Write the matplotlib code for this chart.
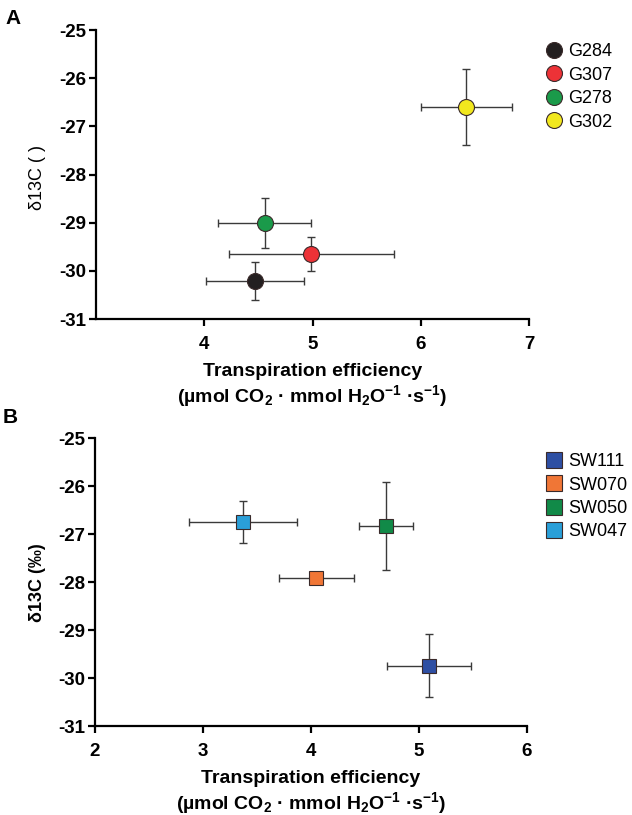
import matplotlib
matplotlib.use("Agg")
import matplotlib.pyplot as plt
from matplotlib.lines import Line2D

plt.rcParams["font.family"] = ["Liberation Sans", "DejaVu Sans"]
plt.rcParams["axes.unicode_minus"] = False
plt.rcParams["mathtext.fontset"] = "custom"
plt.rcParams["mathtext.rm"] = "Liberation Sans"
plt.rcParams["mathtext.bf"] = "Liberation Sans:bold"
plt.rcParams["mathtext.it"] = "Liberation Sans:italic"

# --- panel A: genotypes (circles) ---
a_names = ["G284", "G307", "G278", "G302"]
a_colors = ["#231f20", "#ed3237", "#1a9a4a", "#f2e81e"]
a_te = [4.47, 4.99, 4.56, 6.42]
a_te_err = [0.45, 0.76, 0.43, 0.42]
a_d13c = [-30.21, -29.65, -29.01, -26.60]
a_d13c_err = [0.39, 0.36, 0.52, 0.78]

# --- panel B: lines (squares) ---
b_names = ["SW111", "SW070", "SW050", "SW047"]
b_colors = ["#2e4fa3", "#f07636", "#118a48", "#2a9fd8"]
b_te = [5.09, 4.05, 4.69, 3.37]
b_te_err = [0.39, 0.35, 0.25, 0.50]
b_d13c = [-29.74, -27.91, -26.84, -26.75]
b_d13c_err = [0.65, 0.05, 0.92, 0.44]

XLABEL1 = "Transpiration efficiency"
XLABEL2 = r"$\mathbf{(µmol\ CO_2\ ·\ mmol\ H_2O^{-1}\ ·s^{-1})}$"


def style_axis(ax, xlim, xticks):
    ax.set_xlim(*xlim)
    ax.set_ylim(-31, -25)
    ax.set_xticks(xticks)
    ax.set_yticks(range(-31, -24))
    for s in ["top", "right"]:
        ax.spines[s].set_visible(False)
    for s in ["left", "bottom"]:
        ax.spines[s].set_linewidth(1.6)
    ax.tick_params(direction="out", length=5, width=1.6, labelsize=13.5)
    ax.tick_params(axis="x", pad=7)
    ax.tick_params(axis="y", pad=2)
    for lab in ax.get_xticklabels() + ax.get_yticklabels():
        lab.set_fontweight("bold")
    ax.annotate(XLABEL1, (0.5, 0), xycoords="axes fraction", xytext=(0, -57),
                textcoords="offset pixels", ha="center", va="baseline",
                fontsize=14, fontweight="bold")
    ax.annotate(XLABEL2, (0.5, 0), xycoords="axes fraction", xytext=(0, -83),
                textcoords="offset pixels", ha="center", va="baseline",
                fontsize=14)


def draw(ax, names, colors, te, te_err, d13c, d13c_err, marker, ms, ms_leg):
    handles = []
    for i in range(len(names)):
        ax.errorbar(te[i], d13c[i], xerr=te_err[i], yerr=d13c_err[i], fmt="none",
                    ecolor="#3a3a3a", elinewidth=1.0, capsize=3, capthick=1.0, zorder=2)
        ax.plot(te[i], d13c[i], marker=marker, ms=ms, color=colors[i],
                mec="#3a2a2a", mew=0.8, ls="none", zorder=3)
        handles.append(Line2D([], [], marker=marker, ms=ms_leg, color=colors[i],
                              mec="#3a2a2a", mew=0.8, ls="none", label=names[i]))
    return handles


fig = plt.figure(figsize=(6.32, 8.15), dpi=100)

# Panel A
axA = fig.add_axes([96 / 632, 1 - 319 / 815, 433 / 632, 289 / 815])
hA = draw(axA, a_names, a_colors, a_te, a_te_err, a_d13c, a_d13c_err, "o", 11.5, 11.5)
style_axis(axA, (3, 7), [4, 5, 6, 7])
fig.text(37 / 632, 1 - 177 / 815, "δ13C ( )", rotation=90, ha="center", va="center",
         fontsize=13)
fig.legend(handles=hA, loc="upper left", bbox_to_anchor=(536 / 632, 1 - 36 / 815),
           frameon=False, fontsize=13, handletextpad=0.2, labelspacing=0.36,
           handlelength=1.2, borderaxespad=0)
fig.text(5 / 632, 1 - 19 / 815, "A", fontsize=15, fontweight="bold", va="center")

# Panel B
axB = fig.add_axes([95 / 632, 1 - 726 / 815, 432 / 632, 288 / 815])
hB = draw(axB, b_names, b_colors, b_te, b_te_err, b_d13c, b_d13c_err, "s", 9.5, 11)
style_axis(axB, (2, 6), [2, 3, 4, 5, 6])
fig.text(37 / 632, 1 - 583 / 815, "δ13C (‰)", rotation=90, ha="center", va="center",
         fontsize=13, fontweight="bold")
fig.legend(handles=hB, loc="upper left", bbox_to_anchor=(536 / 632, 1 - 446 / 815),
           frameon=False, fontsize=13, handletextpad=0.2, labelspacing=0.35,
           handlelength=1.2, borderaxespad=0)
fig.text(3 / 632, 1 - 417 / 815, "B", fontsize=15, fontweight="bold", va="center")

fig.savefig("out.png", dpi=100)
